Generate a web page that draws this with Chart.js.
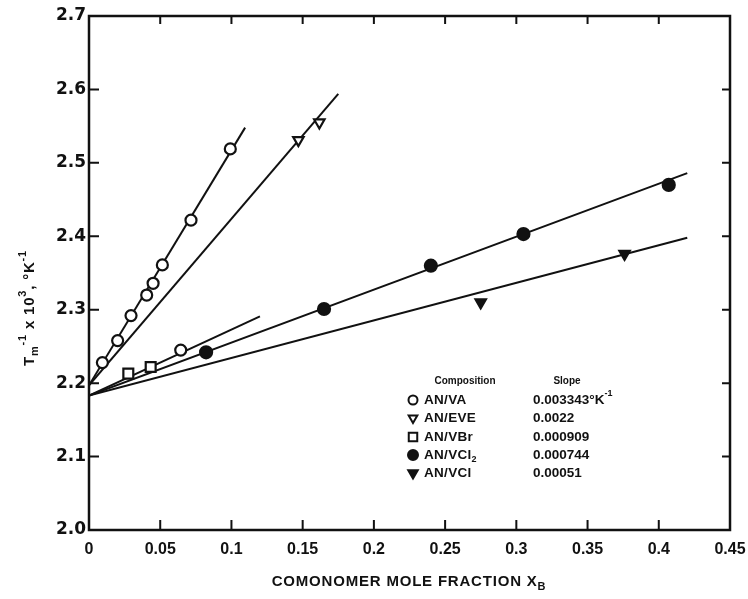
<!DOCTYPE html>
<html>
<head>
<meta charset="utf-8">
<script src="https://cdn.jsdelivr.net/npm/chart.js@4.4.1/dist/chart.umd.min.js"></script>
<style>
    html, body {margin: 0; padding: 0; background: #fff;}
    #wrap {width: 748px; height: 599px;}
</style>
</head>
<body>
<div id="wrap"><canvas id="chartScatter"></canvas></div>
<script>
// axis ticks
const xTicks = [0, 0.05, 0.1, 0.15, 0.2, 0.25, 0.3, 0.35, 0.4, 0.45];
const xTickLabels = ['0', '0.05', '0.1', '0.15', '0.2', '0.25', '0.3', '0.35', '0.4', '0.45'];
const yTicks = [2.0, 2.1, 2.2, 2.3, 2.4, 2.5, 2.6, 2.7];
const yTickLabels = ['2.0', '2.1', '2.2', '2.3', '2.4', '2.5', '2.6', '2.7'];

// legend table
const compositions = ['AN/VA', 'AN/EVE', 'AN/VBr', 'AN/VCl', 'AN/VCl'];
const compositionSubs = ['', '', '', '2', ''];
const slopes = ['0.003343°K', '0.0022', '0.000909', '0.000744', '0.00051'];

// measured points
const vaX = [0.0094, 0.0201, 0.0295, 0.0405, 0.045, 0.0515, 0.0716, 0.0992];
const vaY = [2.228, 2.258, 2.292, 2.320, 2.336, 2.361, 2.422, 2.519];
const eveX = [0.147, 0.1617];
const eveY = [2.531, 2.555];
const vbrX = [0.0276, 0.0433, 0.0644];
const vbrY = [2.213, 2.222, 2.245];
const vcl2X = [0.0822, 0.165, 0.24, 0.305, 0.407];
const vcl2Y = [2.242, 2.301, 2.360, 2.403, 2.470];
const vclX = [0.275, 0.376];
const vclY = [2.310, 2.376];

// fitted lines (end points)
const vaFitX = [0, 0.1096];
const vaFitY = [2.197, 2.548];
const eveFitX = [0, 0.175];
const eveFitY = [2.197, 2.594];
const vbrFitX = [0, 0.12];
const vbrFitY = [2.183, 2.291];
const vcl2FitX = [0, 0.42];
const vcl2FitY = [2.183, 2.486];
const vclFitX = [0, 0.42];
const vclFitY = [2.183, 2.398];

const toXY = (xs, ys) => xs.map((x, i) => ({x: x, y: ys[i]}));

const lineSet = (xs, ys) => ({
    data: toXY(xs, ys),
    showLine: true,
    borderColor: '#111',
    borderWidth: 2,
    pointRadius: 0,
    order: 2
});

const pointSet = (xs, ys, style) => Object.assign({
    data: toXY(xs, ys),
    showLine: false,
    borderColor: '#111',
    backgroundColor: '#fff',
    borderWidth: 2.2,
    pointRadius: 5.5,
    order: 1
}, style);

// rich text helper (base / sub / sup pieces)
function drawRich(ctx, parts, x, y, size, align, spacing) {
    const small = Math.round(size * 0.7);
    ctx.letterSpacing = (spacing || 0) + 'px';
    let total = 0;
    parts.forEach(p => {
        ctx.font = `bold ${p.s ? small : size}px "Liberation Sans", sans-serif`;
        total += ctx.measureText(p.t).width;
    });
    let cx = align === 'center' ? x - total / 2 : x;
    parts.forEach(p => {
        ctx.font = `bold ${p.s ? small : size}px "Liberation Sans", sans-serif`;
        const dy = p.s === 'sub' ? size * 0.35 : p.s === 'sup' ? -size * 0.45 : 0;
        ctx.fillText(p.t, cx, y + dy);
        cx += ctx.measureText(p.t).width;
    });
    ctx.letterSpacing = '0px';
}

const framePlugin = {
    id: 'frame',
    afterDraw(chart) {
        const {ctx, chartArea: a, scales: {x, y}} = chart;
        ctx.save();
        ctx.strokeStyle = '#111';
        ctx.lineWidth = 2.5;
        ctx.strokeRect(a.left, a.top, a.right - a.left, a.bottom - a.top);
        ctx.lineWidth = 2;
        ctx.beginPath();
        xTicks.slice(1, -1).forEach(v => {
            const px = x.getPixelForValue(v);
            ctx.moveTo(px, a.bottom); ctx.lineTo(px, a.bottom - 10);
            ctx.moveTo(px, a.top); ctx.lineTo(px, a.top + 8);
        });
        yTicks.slice(1, -1).forEach(v => {
            const py = y.getPixelForValue(v);
            ctx.moveTo(a.left, py); ctx.lineTo(a.left + 10, py);
            ctx.moveTo(a.right, py); ctx.lineTo(a.right - 8, py);
        });
        ctx.stroke();

        ctx.fillStyle = '#111';
        ctx.textBaseline = 'middle';
        ctx.textAlign = 'left';

        // x title
        drawRich(ctx, [{t: 'COMONOMER MOLE FRACTION X'}, {t: 'B', s: 'sub'}], 409, 582, 15, 'center', 0.8);

        // y title
        ctx.save();
        ctx.translate(30, 308);
        ctx.rotate(-Math.PI / 2);
        drawRich(ctx, [{t: 'T'}, {t: 'm', s: 'sub'}, {t: '-1', s: 'sup'}, {t: ' x 10'}, {t: '3', s: 'sup'}, {t: ', °K'}, {t: '-1', s: 'sup'}], 0, 0, 15, 'center', 0.8);
        ctx.restore();

        // legend table
        ctx.font = 'bold 10px "Liberation Sans", sans-serif';
        ctx.textAlign = 'center';
        ctx.fillText('Composition', 465, 381);
        ctx.fillText('Slope', 567, 381);
        ctx.textAlign = 'left';
        const rowY = [400, 418, 437, 455, 473];
        const marks = [
            {style: 'circle', fill: '#fff', rot: 0, r: 4.5},
            {style: 'triangle', fill: '#fff', rot: 180, r: 5},
            {style: 'rect', fill: '#fff', rot: 0, r: 6},
            {style: 'circle', fill: '#111', rot: 0, r: 5},
            {style: 'triangle', fill: '#111', rot: 180, r: 5.5}
        ];
        compositions.forEach((c, i) => {
            ctx.fillStyle = marks[i].fill;
            ctx.strokeStyle = '#111';
            ctx.lineWidth = 2;
            Chart.helpers.drawPoint(ctx, {pointStyle: marks[i].style, radius: marks[i].r, rotation: marks[i].rot, borderWidth: 2}, 413, rowY[i]);
            ctx.fillStyle = '#111';
            const parts = [{t: c}];
            if (compositionSubs[i]) parts.push({t: compositionSubs[i], s: 'sub'});
            drawRich(ctx, parts, 424, rowY[i], 13.5, 'left', 0.3);
            const sp = [{t: slopes[i]}];
            if (i === 0) sp.push({t: '-1', s: 'sup'});
            drawRich(ctx, sp, 533, rowY[i], 13.5, 'left', 0);
        });
        ctx.restore();
    }
};

new Chart(document.getElementById('chartScatter').getContext('2d'), {
    type: 'scatter',
    data: {
        datasets: [
            lineSet(vaFitX, vaFitY),
            lineSet(eveFitX, eveFitY),
            lineSet(vbrFitX, vbrFitY),
            lineSet(vcl2FitX, vcl2FitY),
            lineSet(vclFitX, vclFitY),
            pointSet(vaX, vaY, {pointStyle: 'circle'}),
            pointSet(eveX, eveY, {pointStyle: 'triangle', pointRotation: 180, pointRadius: 6}),
            pointSet(vbrX, vbrY, {pointStyle: ['rect', 'rect', 'circle'], pointRadius: [7, 7, 5.5]}),
            pointSet(vcl2X, vcl2Y, {pointStyle: 'circle', backgroundColor: '#111', pointRadius: 6}),
            pointSet(vclX, vclY, {pointStyle: 'triangle', pointRotation: 180, backgroundColor: '#111', pointRadius: 6})
        ]
    },
    options: {
        animation: false,
        responsive: true,
        maintainAspectRatio: false,
        layout: {padding: {top: 16, right: 18, left: 0, bottom: 0}},
        plugins: {
            legend: {display: false},
            tooltip: {enabled: false}
        },
        scales: {
            x: {
                type: 'linear',
                min: 0,
                max: 0.45,
                afterBuildTicks: scale => { scale.ticks = xTicks.map(v => ({value: v})); },
                afterFit: scale => { scale.height = 69; scale.paddingLeft = 0; scale.paddingRight = 0; },
                grid: {display: false, drawTicks: false},
                border: {display: false},
                ticks: {
                    padding: 10,
                    color: '#111',
                    maxRotation: 0,
                    autoSkip: false,
                    callback: (v, i) => xTickLabels[i],
                    font: {family: '"Liberation Sans", sans-serif', size: 16, weight: 'bold'}
                }
            },
            y: {
                type: 'linear',
                min: 2.0,
                max: 2.7,
                afterBuildTicks: scale => { scale.ticks = yTicks.map(v => ({value: v})); },
                afterFit: scale => { scale.width = 89; scale.paddingTop = 0; scale.paddingBottom = 0; },
                grid: {display: false, drawTicks: false},
                border: {display: false},
                ticks: {
                    padding: 3,
                    color: '#111',
                    autoSkip: false,
                    callback: (v, i) => yTickLabels[i],
                    font: {family: '"DejaVu Sans", sans-serif', size: 17, weight: 'bold'}
                }
            }
        }
    },
    plugins: [framePlugin]
});
</script>
</body>
</html>
